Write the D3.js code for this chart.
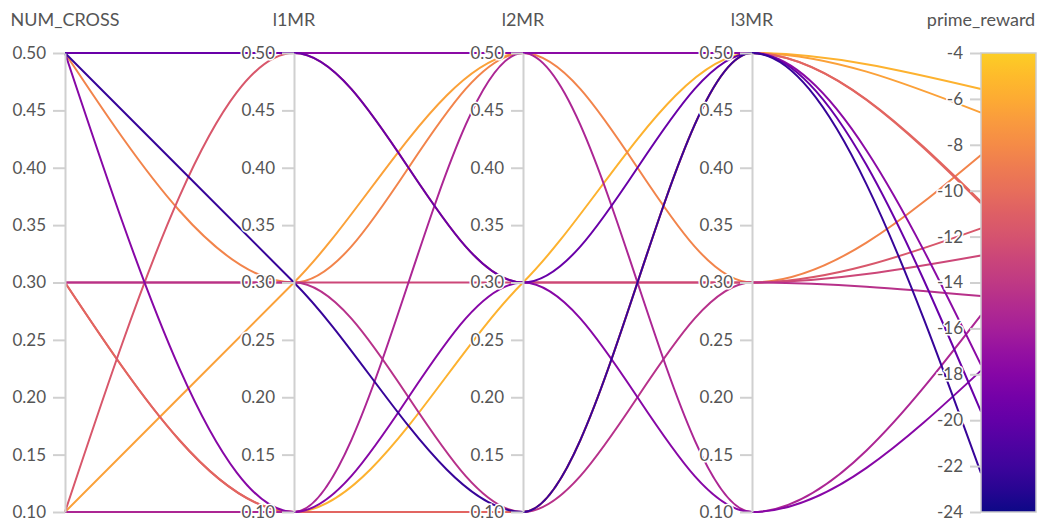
<!DOCTYPE html>
<html>
<head>
<meta charset="utf-8">
<script src="https://cdn.jsdelivr.net/npm/d3@7"></script>
<style>
  html, body { margin: 0; padding: 0; background: #fff; }
  svg { display: block; }
  text { font-family: Lato, "Noto Sans", sans-serif; fill: #555; }
</style>
</head>
<body>
<svg id="chart" width="1047" height="523"></svg>
<script>
// ---- data ----
const dimensions = ["NUM_CROSS", "l1MR", "l2MR", "l3MR", "prime_reward"];
const numCross   = [0.1, 0.1, 0.5, 0.3, 0.3, 0.1, 0.3, 0.3, 0.1, 0.5, 0.5, 0.5, 0.5];
const l1MR       = [0.1, 0.3, 0.3, 0.1, 0.1, 0.5, 0.3, 0.3, 0.1, 0.5, 0.1, 0.5, 0.3];
const l2MR       = [0.3, 0.5, 0.5, 0.1, 0.1, 0.3, 0.3, 0.1, 0.5, 0.5, 0.3, 0.3, 0.1];
const l3MR       = [0.5, 0.5, 0.3, 0.5, 0.5, 0.3, 0.3, 0.3, 0.1, 0.5, 0.1, 0.5, 0.5];
const primeReward = [-5.57, -6.60, -8.44, -10.48, -10.55, -11.64, -12.82, -14.59, -15.42, -17.59, -17.84, -19.63, -22.31];
const paramTicks  = [0.10, 0.15, 0.20, 0.25, 0.30, 0.35, 0.40, 0.45, 0.50];
const rewardTicks = [-24, -22, -20, -18, -16, -14, -12, -10, -8, -6, -4];

const runs = numCross.map((d, i) => ({
  NUM_CROSS: numCross[i], l1MR: l1MR[i], l2MR: l2MR[i], l3MR: l3MR[i], prime_reward: primeReward[i]
}));

// ---- layout ----
const svg = d3.select("#chart");
const plotTop = 53, plotBottom = 512;
const x = d3.scalePoint().domain(dimensions).range([65, 981]);
const yParam = d3.scaleLinear().domain([0.1, 0.5]).range([plotBottom, plotTop]);
const yReward = d3.scaleLinear().domain([-24, -4]).range([plotBottom, plotTop]);
const yOf = dim => dim === "prime_reward" ? yReward : yParam;
const color = d3.scaleSequential(t => d3.interpolatePlasma(t * 0.9)).domain([-24, -4]);

// ---- lines ----
const line = d3.line()
  .x(d => d[0]).y(d => d[1])
  .curve(d3.curveMonotoneX);

const order = runs.slice().sort((a, b) => b.prime_reward - a.prime_reward);
svg.append("g").selectAll("path")
  .data(order)
  .join("path")
  .attr("d", r => line(dimensions.map(dim => [x(dim), yOf(dim)(r[dim])])))
  .attr("fill", "none")
  .attr("stroke", r => color(r.prime_reward))
  .attr("stroke-width", 2);

// ---- axes ----
const axisColor = "#d0d0d0";
["NUM_CROSS", "l1MR", "l2MR", "l3MR"].forEach(dim => {
  const g = svg.append("g").attr("transform", `translate(${x(dim)},0)`)
    .call(d3.axisLeft(yParam).tickValues(paramTicks).tickFormat(d3.format(".2f"))
      .tickSize(12).tickSizeOuter(0).tickPadding(7));
  g.select(".domain").attr("stroke", axisColor).attr("stroke-width", 2);
  g.selectAll(".tick line").attr("stroke", axisColor).attr("stroke-width", 2);
  g.selectAll(".tick text")
    .style("font-size", "17px").attr("fill", "#555")
    .attr("stroke", "#fff").attr("stroke-width", 3).attr("paint-order", "stroke");
});

// ---- colorbar ----
const defs = svg.append("defs");
const grad = defs.append("linearGradient").attr("id", "cbar")
  .attr("x1", 0).attr("y1", 1).attr("x2", 0).attr("y2", 0);
d3.range(0, 1.0001, 0.05).forEach(t => {
  grad.append("stop").attr("offset", t).attr("stop-color", color(-24 + 20 * t));
});
svg.append("rect")
  .attr("x", x("prime_reward")).attr("y", plotTop)
  .attr("width", 55).attr("height", plotBottom - plotTop)
  .attr("fill", "url(#cbar)").attr("stroke", "#ccc").attr("stroke-width", 1.5);

const gr = svg.append("g").attr("transform", `translate(${x("prime_reward")},0)`)
  .call(d3.axisLeft(yReward).tickValues(rewardTicks).tickFormat(d => String(d))
    .tickSize(11).tickSizeOuter(0).tickPadding(7));
gr.select(".domain").remove();
gr.selectAll(".tick line").attr("stroke", axisColor).attr("stroke-width", 2);
gr.selectAll(".tick text")
  .style("font-size", "17px").attr("fill", "#555")
  .attr("stroke", "#fff").attr("stroke-width", 3).attr("paint-order", "stroke");

// ---- titles ----
svg.append("g").selectAll("text")
  .data(dimensions)
  .join("text")
  .attr("x", d => x(d)).attr("y", 26)
  .attr("text-anchor", "middle")
  .style("font-size", "18px")
  .text(d => d);
</script>
</body>
</html>
